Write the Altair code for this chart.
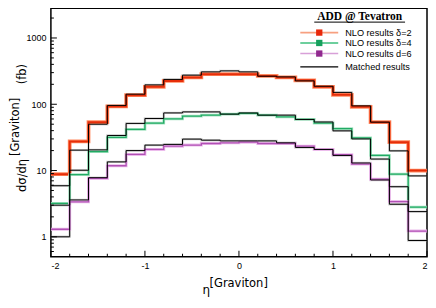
import altair as alt
import pandas as pd

# bin edges (eta of graviton), 20 bins of 0.2
edges = [-2.0, -1.8, -1.6, -1.4, -1.2, -1.0, -0.8, -0.6, -0.4, -0.2, 0.0,
         0.2, 0.4, 0.6, 0.8, 1.0, 1.2, 1.4, 1.6, 1.8, 2.0]

nlo_d2 = [8.8, 27.5, 53.7, 92.7, 137, 183, 225, 254, 284, 284,
          284, 268, 254, 230, 183, 139, 91.4, 53.7, 26.8, 10.0]
match_d2 = [5.9, 20.3, 50, 96, 142, 196, 237, 275, 308, 319,
            308, 265, 259, 225, 187, 151, 94.6, 53.7, 19.8, 8.3]
nlo_d4 = [3.2, 8.7, 19.3, 31.6, 41.7, 52, 60, 66, 68.5, 71,
          72.6, 68.5, 64.6, 59, 52, 43, 31, 16.9, 8.8, 2.8]
match_d4 = [3.0, 10.1, 20.5, 33.8, 51.4, 61, 74, 76.7, 76.7, 71,
            74, 68.5, 68.5, 59, 54, 39.7, 30, 14.9, 5.7, 2.4]
nlo_d6 = [1.3, 3.37, 7.6, 11.8, 17.5, 20.8, 23.3, 24.2, 25.6, 26.2,
          26.8, 25.6, 25.6, 23.3, 20.8, 17.3, 12.5, 7.4, 3.4, 1.22]
match_d6 = [1.0, 3.6, 7.8, 13.5, 20, 24.2, 24.8, 29.8, 28.7, 28,
            28, 28, 26.2, 22.3, 20.8, 16.9, 13, 7.2, 3.1, 0.88]

legend_labels = ["NLO results \u03b4=2", "NLO results \u03b4=4", "NLO results d=6", "Matched results"]
legend_title = "ADD @ Tevatron"

x_major = [-2, -1, 0, 1, 2]
x_minor = [-1.8, -1.6, -1.4, -1.2, -0.8, -0.6, -0.4, -0.2,
           0.2, 0.4, 0.6, 0.8, 1.2, 1.4, 1.6, 1.8]
y_major = [1, 10, 100, 1000]
y_minor = [0.6, 0.7, 0.8, 0.9, 2, 3, 4, 5, 6, 7, 8, 9,
           20, 30, 40, 50, 60, 70, 80, 90,
           200, 300, 400, 500, 600, 700, 800, 900, 2000]

W, H = 377, 249
FONT = "Liberation Sans"
xs = alt.Scale(domain=[-2, 2], nice=False, zero=False)
ys = alt.Scale(type="log", domain=[0.5, 2800], nice=False)

x_axis = alt.Axis(values=x_major, labelExpr="'' + datum.value", ticks=False, domain=False,
                  grid=False, labelFont=FONT, labelFontSize=9, labelPadding=5, title=None,
                  labelColor="black")
y_axis = alt.Axis(values=y_major, labelExpr="'' + datum.value", ticks=False, domain=False,
                  grid=False, labelFont=FONT, labelFontSize=9, labelPadding=5, title=None,
                  labelColor="black")


def step_df(vals):
    return pd.DataFrame({"eta": edges, "v": vals + [vals[-1]]})


def step(vals, color, width, opacity=1.0):
    return alt.Chart(step_df(vals)).mark_line(
        interpolate="step-after", color=color, strokeWidth=width, opacity=opacity, clip=True
    ).encode(x=alt.X("eta:Q", scale=xs, axis=x_axis), y=alt.Y("v:Q", scale=ys, axis=y_axis))


layers = []
# matched shadows
for m in [match_d2, match_d4, match_d6]:
    layers.append(step(m, "#909090", 2.4, 0.4))
# NLO bands
layers.append(step(nlo_d2, "#ff8a60", 3.8))
layers.append(step(nlo_d2, "#e62e0a", 2.0))
layers.append(step(nlo_d4, "#a8e4c4", 2.8))
layers.append(step(nlo_d4, "#22aa64", 1.3))
layers.append(step(nlo_d6, "#ecbcec", 3.0))
layers.append(step(nlo_d6, "#b050b4", 1.3))
# matched lines
for m in [match_d2, match_d4, match_d6]:
    layers.append(step(m, "black", 1.0))

# inward ticks
layers.append(alt.Chart(pd.DataFrame({"v": y_major})).mark_rule(color="black", strokeWidth=1).encode(
    y=alt.Y("v:Q", scale=ys, axis=y_axis), x=alt.value(0), x2=alt.value(6)))
layers.append(alt.Chart(pd.DataFrame({"v": y_minor})).mark_rule(color="black", strokeWidth=1).encode(
    y=alt.Y("v:Q", scale=ys, axis=y_axis), x=alt.value(0), x2=alt.value(3)))
layers.append(alt.Chart(pd.DataFrame({"v": x_major})).mark_rule(color="black", strokeWidth=1).encode(
    x=alt.X("v:Q", scale=xs, axis=x_axis), y=alt.value(H), y2=alt.value(H - 6)))
layers.append(alt.Chart(pd.DataFrame({"v": x_minor})).mark_rule(color="black", strokeWidth=1).encode(
    x=alt.X("v:Q", scale=xs, axis=x_axis), y=alt.value(H), y2=alt.value(H - 3)))


def text(t, x, y, size, font=FONT, weight="normal", angle=0, align="left", baseline="alphabetic"):
    return alt.Chart(pd.DataFrame({"t": [t]})).mark_text(
        font=font, fontSize=size, fontWeight=weight, angle=angle, align=align,
        baseline=baseline, color="black"
    ).encode(x=alt.value(x), y=alt.value(y), text="t:N")


# legend
leg_y = [24.3, 34.7, 45.3, 58.7]
line_cols = ["#f7a080", "#3cbf7c", "#d8a0d8", "black"]
sq_cols = ["#e8280a", "#16a05c", "#90288e", None]
for i in range(4):
    layers.append(alt.Chart(pd.DataFrame({"t": [legend_labels[i]]})).mark_rule(
        color=line_cols[i], strokeWidth=1.6 if i < 3 else 1.2).encode(
        x=alt.value(250), x2=alt.value(288), y=alt.value(leg_y[i])))
    if sq_cols[i]:
        layers.append(alt.Chart(pd.DataFrame({"t": [legend_labels[i]]})).mark_square(
            color=sq_cols[i], size=40, opacity=1).encode(x=alt.value(269), y=alt.value(leg_y[i])))
    layers.append(text(legend_labels[i], 295, leg_y[i] + 3.2, 9.2))

layers.append(text(legend_title, 309.5, 12, 11.5, font="Liberation Serif", weight="bold", align="center"))
layers.append(alt.Chart(pd.DataFrame({"t": [legend_title]})).mark_rule(color="black", strokeWidth=1).encode(
    x=alt.value(264), x2=alt.value(355), y=alt.value(13.8)))

# axis titles (with raised bracket parts)
layers.append(text("\u03b7", 152, 286, 12, font="DejaVu Sans"))
layers.append(text("[Graviton]", 159, 279, 11.5, font="DejaVu Sans"))
layers.append(text("d\u03c3/d\u03b7", -25, 184, 11.5, font="DejaVu Sans", angle=270))
layers.append(text("[Graviton]", -32, 148, 11.5, font="DejaVu Sans", angle=270))
layers.append(text("(fb)", -25, 76, 11.5, font="DejaVu Sans", angle=270))

chart = alt.layer(*layers).properties(
    width=W, height=H,
    autosize=alt.AutoSizeParams(type="none"),
    padding={"left": 43, "top": 0, "right": 1, "bottom": 45},
    background="white",
).configure_view(stroke="black", strokeWidth=1.5)

chart.save("out.html", embed_options={"renderer": "svg", "actions": False})
